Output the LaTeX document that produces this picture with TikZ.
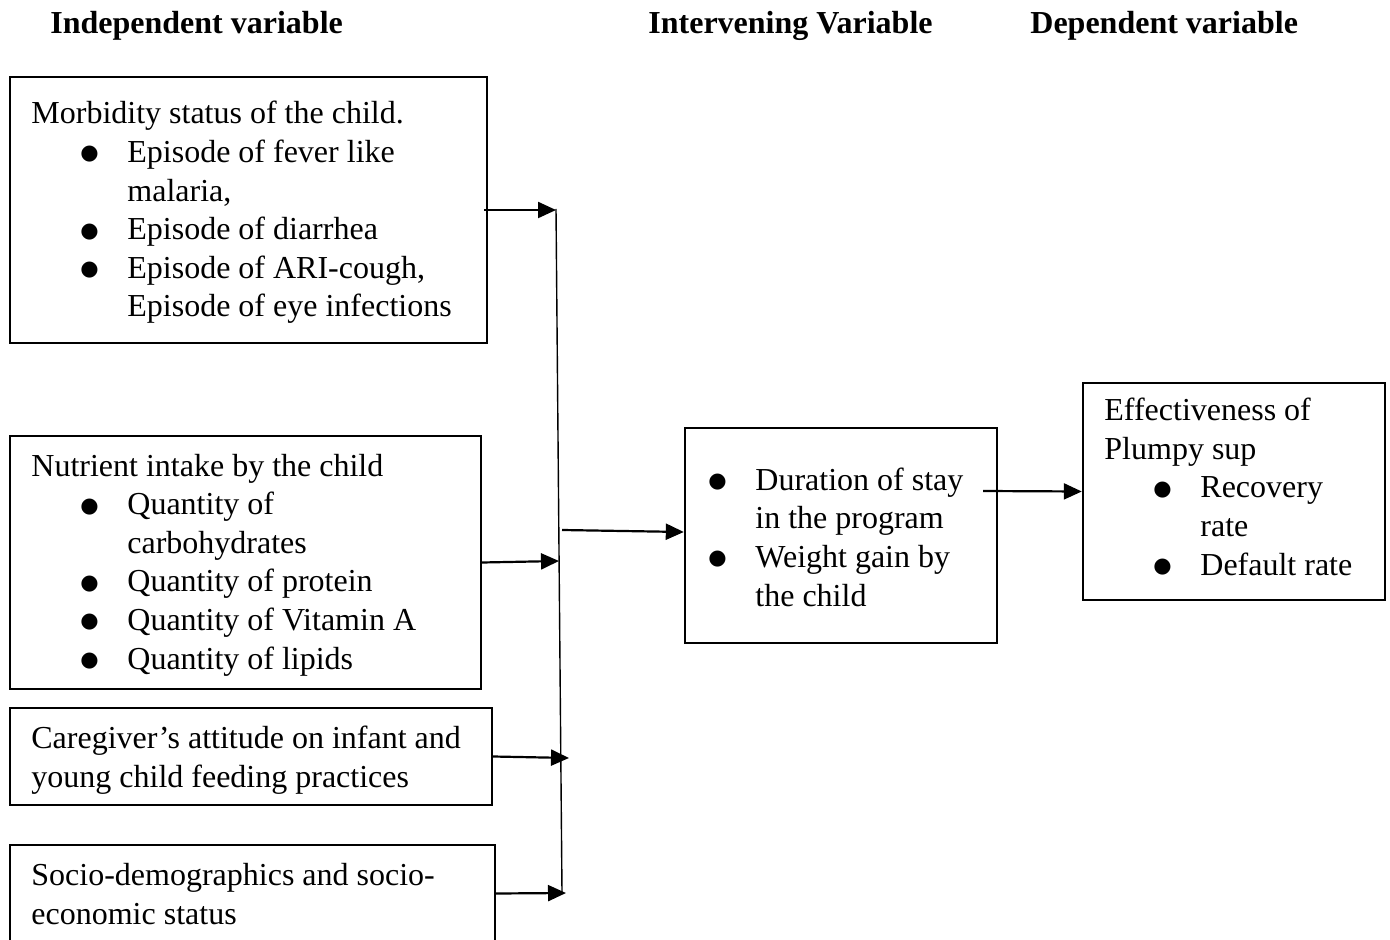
\documentclass[tikz,border=0pt]{standalone}
\usepackage{fontspec}
\setmainfont{Liberation Serif}
\newfontfamily\dejavu{DejaVu Sans}
\usetikzlibrary{arrows.meta,fit}
\newcommand{\bulmark}{\makebox[23.5pt][l]{\raisebox{1.3pt}{\dejavu\fontsize{10.5}{10.5}\selectfont ●}}}
\newcommand{\bul}{\hspace*{24.5pt}\bulmark}
\newcommand{\ind}{\hspace*{48pt}}
\tikzset{
  boxx/.style={draw, line width=1.2pt, inner sep=0pt},
  txt/.style={anchor=base west, inner sep=0pt, align=left, font=\fontsize{16}{19.3}\selectfont},
  hdr/.style={anchor=base west, inner sep=0pt, font=\bfseries\fontsize{16}{19.3}\selectfont},
  arr/.style={line width=1.1pt, -{Triangle[length=9pt,width=8pt]}},
  vline/.style={line width=0.7pt}
}
\begin{document}
\begin{tikzpicture}[x=0.5pt,y=-0.5pt]
\useasboundingbox (0,0) rectangle (1390,940);
% headers
\node[hdr] (h1) at (50,34) {Independent variable};
\node[hdr] (h2) at (648,34) {Intervening Variable};
\node[hdr] (h3) at (1030,34) {Dependent variable};
% boxes
\node[boxx, fit={(10,77) (487,343)}] (b1) {};
\node[boxx, fit={(10,436) (481,689)}] (b2) {};
\node[boxx, fit={(10,708) (492,805)}] (b3) {};
\node[boxx, fit={(10,845) (495,942)}] (b4) {};
\node[boxx, fit={(685,428) (997,643)}] (bi) {};
\node[boxx, fit={(1083,383) (1385,600)}] (bd) {};
% texts (anchored at the baseline of their last line)
\node[txt] (t1) at (31,317) {Morbidity status of the child.\\
\bul Episode of fever like\\
\ind malaria,\\
\bul Episode of diarrhea\\
\bul Episode of ARI-cough,\\
\ind Episode of eye infections};
\node[txt] (t2) at (31,669) {Nutrient intake by the child\\
\bul Quantity of\\
\ind carbohydrates\\
\bul Quantity of protein\\
\bul Quantity of Vitamin A\\
\bul Quantity of lipids};
\node[txt] (t3) at (31,787) {Caregiver’s attitude on infant and\\
young child feeding practices};
\node[txt] (t4) at (31,924) {Socio-demographics and socio-\\
economic status};
\node[txt] (ti) at (708,606) {\bulmark Duration of stay\\
\hspace*{23.5pt}in the program\\
\bulmark Weight gain by\\
\hspace*{23.5pt}the child};
\node[txt] (td) at (1104,575) {Effectiveness of\\
Plumpy sup\\
\bul Recovery\\
\ind rate\\
\bul Default rate};
% connectors
\coordinate (vt) at (556,209);
\coordinate (vb) at (562,893);
\coordinate (j2) at (559,561);
\coordinate (j3) at (569,758);
\coordinate (j4) at (566,893);
\coordinate (jm) at (562,530);
\coordinate (ds) at (983,491);
\draw[vline] (vt) -- (vb);
\draw[arr] ([xshift=-2pt]b1.east) -- (b1.east -| vt);
\draw[arr] (b2.east) -- (j2);
\draw[arr] (b3.east) -- (j3);
\draw[arr] (b4.east) -- (j4);
\draw[arr] (jm) -- ([yshift=1.75pt]bi.west);
\draw[arr] (ds) -- (bd.west);
\end{tikzpicture}
\end{document}
